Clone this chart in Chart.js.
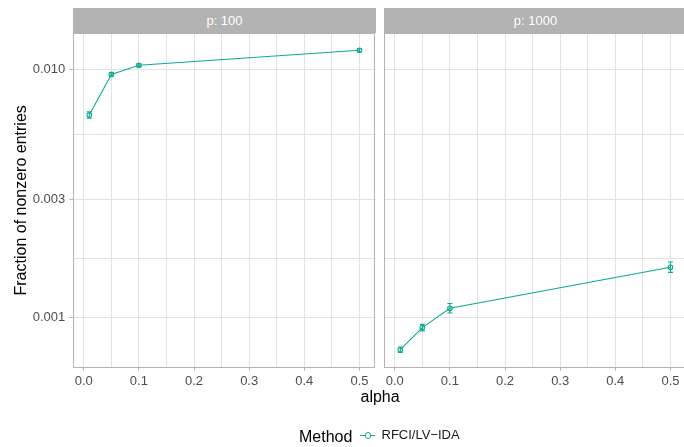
<!DOCTYPE html>
<html><head><meta charset="utf-8">
<script src="https://cdn.jsdelivr.net/npm/chart.js@4.4.0/dist/chart.umd.min.js"></script>
<style>
html,body{margin:0;padding:0;background:#fff;}
#wrap{position:relative;width:684px;height:447px;overflow:hidden;font-family:"Liberation Sans",Arial,Helvetica,sans-serif;}
canvas{position:absolute;left:0;top:0;}
.strip{position:absolute;background:#B3B3B3;color:#fff;font-size:13px;text-align:center;white-space:nowrap;overflow:hidden;}
.txt{position:absolute;white-space:nowrap;color:#000;}
</style>
</head><body>
<div id="wrap">
  <canvas id="c1" width="700" height="447"></canvas>
  <canvas id="c2" width="700" height="447"></canvas>
  <div class="strip" id="s1"></div>
  <div class="strip" id="s2"></div>
  <div class="txt" id="xtitle" style="font-size:16px;line-height:18px;top:388px;">alpha</div>
  <div class="txt" id="legTitle" style="font-size:16px;line-height:20px;left:299px;top:427px;">Method</div>
  <div id="legLine" style="position:absolute;left:360px;top:434.8px;width:15px;height:0;border-top:1.1px solid #0FAA92;"></div>
  <div id="legPt" style="position:absolute;left:364.6px;top:432.1px;width:4.6px;height:4.6px;border:1.1px solid #0FAA92;border-radius:50%;background:#fff;"></div>
  <div class="txt" id="legText" style="font-size:13px;line-height:16px;left:381.5px;top:427px;color:#1a1a1a;">RFCI/LV−IDA</div>
</div>
<script>
// ---- data ----
const alpha = [0.01, 0.05, 0.1, 0.5];
const panelLabels = ['p: 100', 'p: 1000'];
const p100Mean  = [0.00654, 0.00954, 0.01038, 0.01193];
const p100Lower = [0.00635, 0.00941, 0.01024, 0.01177];
const p100Upper = [0.00674, 0.00967, 0.01052, 0.01209];
const p1000Mean  = [0.000743, 0.000912, 0.001091, 0.001596];
const p1000Lower = [0.000724, 0.000885, 0.001044, 0.001522];
const p1000Upper = [0.000762, 0.000940, 0.001140, 0.001675];
const xGridValues = [0, 0.05, 0.1, 0.15, 0.2, 0.25, 0.3, 0.35, 0.4, 0.45, 0.5];
const xTickValues = [0, 0.1, 0.2, 0.3, 0.4, 0.5];
const xTickLabels = ['0.0', '0.1', '0.2', '0.3', '0.4', '0.5'];
const yGridValues = [0.001, 0.001732, 0.003, 0.005477, 0.01];
const yTickValues = [0.001, 0.003, 0.01];
const yTickLabels = ['0.001', '0.003', '0.010'];
const methodName = 'RFCI/LV−IDA';

// ---- styles ----
const TEAL = '#0FAA92';
const FONT = '"Liberation Sans", Arial, Helvetica, sans-serif';
const GRID = '#E3E3E3';
const FRAME = '#B3B3B3';
const X_MIN = -0.019, X_MAX = 0.5295;
const Y_MIN = 0.000629, Y_MAX = 0.0140;

function findIdx(arr, v){ return arr.findIndex(a => Math.abs(a - v) < 1e-9); }

function makeErrorBars(xs, lower, upper){
  return {
    id: 'errorBars',
    afterDatasetsDraw(chart){
      const {ctx, scales:{x, y}} = chart;
      ctx.save();
      ctx.strokeStyle = TEAL; ctx.lineWidth = 1.1;
      xs.forEach((xv, i) => {
        const px = x.getPixelForValue(xv);
        const y1 = y.getPixelForValue(lower[i]), y2 = y.getPixelForValue(upper[i]);
        ctx.beginPath();
        ctx.moveTo(px, y1); ctx.lineTo(px, y2);
        ctx.moveTo(px - 2.5, y1); ctx.lineTo(px + 2.5, y1);
        ctx.moveTo(px - 2.5, y2); ctx.lineTo(px + 2.5, y2);
        ctx.stroke();
      });
      ctx.restore();
    }
  };
}
const frame = {
  id: 'frame',
  afterDraw(chart){
    const {ctx, chartArea:a} = chart;
    ctx.save();
    ctx.strokeStyle = FRAME; ctx.lineWidth = 1;
    ctx.strokeRect(Math.round(a.left) + 0.5, Math.round(a.top) + 0.5,
                   Math.round(a.right - a.left) - 1, Math.round(a.bottom - a.top) - 1);
    ctx.restore();
  }
};

function buildChart(canvasId, means, lower, upper, showY, padding){
  const data = alpha.map((a, i) => ({x: a, y: means[i]}));
  return new Chart(document.getElementById(canvasId), {
    type: 'line',
    data: { datasets: [{
      label: methodName, data,
      borderColor: TEAL, borderWidth: 1.1, tension: 0,
      pointRadius: 2.3, pointBorderWidth: 1.1, pointBorderColor: TEAL,
      pointBackgroundColor: 'rgba(255,255,255,0)'
    }]},
    options: {
      responsive: false, animation: false, events: [],
      layout: { padding },
      plugins: { legend: {display: false}, tooltip: {enabled: false} },
      scales: {
        x: {
          type: 'linear', min: X_MIN, max: X_MAX, bounds: 'data',
          afterBuildTicks: s => { s.ticks = xGridValues.map(v => ({value: v})); },
          afterFit: s => { s.height = 22; },
          ticks: {
            autoSkip: false, maxRotation: 0, padding: 3, color: '#4D4D4D',
            font: {size: 13, family: FONT},
            callback: v => { const i = findIdx(xTickValues, v); return i >= 0 ? xTickLabels[i] : ''; }
          },
          grid: {
            color: GRID, lineWidth: 1, tickLength: 3,
            tickColor: c => (c.tick && findIdx(xTickValues, c.tick.value) >= 0) ? FRAME : 'rgba(0,0,0,0)'
          },
          border: {display: false}
        },
        y: {
          type: 'logarithmic', min: Y_MIN, max: Y_MAX, bounds: 'data',
          afterBuildTicks: s => { s.ticks = yGridValues.map(v => ({value: v})); },
          afterFit: s => { s.width = showY ? 73.3 : 0; },
          ticks: {
            display: showY, autoSkip: false, padding: 4, color: '#4D4D4D',
            font: {size: 13, family: FONT},
            callback: v => { const i = findIdx(yTickValues, v); return i >= 0 ? yTickLabels[i] : ''; }
          },
          grid: {
            color: GRID, lineWidth: 1, tickLength: 4, drawTicks: showY,
            tickColor: c => (c.tick && findIdx(yTickValues, c.tick.value) >= 0) ? FRAME : 'rgba(0,0,0,0)'
          },
          border: {display: false},
          title: {
            display: showY, text: 'Fraction of nonzero entries', color: '#000',
            font: {size: 16, family: FONT}, padding: {top: 12, bottom: 0}
          }
        }
      }
    },
    plugins: [makeErrorBars(alpha, lower, upper), frame]
  });
}

const ch1 = buildChart('c1', p100Mean, p100Lower, p100Upper, true,
  {left: 0, top: 33, right: 700 - 375.7, bottom: 447 - 367.7 - 22});
const ch2 = buildChart('c2', p1000Mean, p1000Lower, p1000Upper, false,
  {left: 384.3, top: 33, right: 700 - 686.7, bottom: 447 - 367.7 - 22});

function placeStrip(id, chart, text){
  const a = chart.chartArea, el = document.getElementById(id);
  el.style.left = a.left + 'px'; el.style.width = (a.right - a.left) + 'px';
  el.style.top = '8px'; el.style.height = (a.top - 8) + 'px';
  el.style.lineHeight = (a.top - 7) + 'px';
  el.textContent = text;
}
placeStrip('s1', ch1, panelLabels[0]);
placeStrip('s2', ch2, panelLabels[1]);
const xt = document.getElementById('xtitle');
const mid = (ch1.chartArea.left + ch2.chartArea.right) / 2;
xt.style.left = (mid - xt.offsetWidth / 2) + 'px';
</script>
</body></html>
